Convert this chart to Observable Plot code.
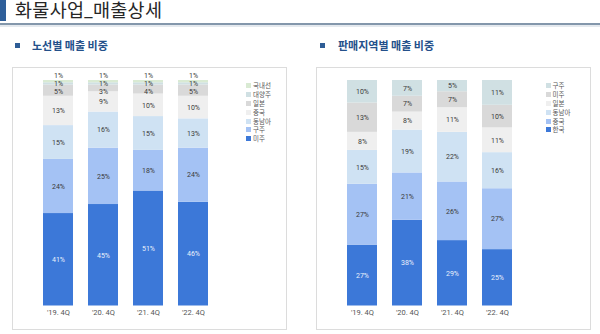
<!DOCTYPE html>
<html><head><meta charset="utf-8">
<script src="https://cdn.jsdelivr.net/npm/d3@7"></script>
<script src="https://cdn.jsdelivr.net/npm/@observablehq/plot@0.6"></script>
<style>
body{margin:0;width:600px;height:334px;background:#fff;position:relative;overflow:hidden;font-family:"Noto Sans CJK KR",Roboto,sans-serif;}
.abs{position:absolute;}
.title{left:15px;top:0px;font-family:Roboto,"Noto Sans CJK KR",sans-serif;font-size:18.5px;color:#262626;line-height:22px;letter-spacing:0.3px;z-index:2;}
.vbar{left:0;top:0;width:6px;height:21px;background:#2f5f9a;}
.hline{left:0;top:23px;width:600px;height:2px;background:#8397ab;}
.hshadow{left:0;top:25px;width:600px;height:2px;background:#e4e9ee;}
.sq{width:5px;height:5px;background:#2e5d96;}
.sec{font-size:11px;font-weight:bold;color:#24508a;line-height:14px;}
.panel{border:1px solid #dcdcdc;background:#fff;}
.leg{font-size:6.5px;color:#555;}
.leg div{position:relative;height:8.9px;}
.leg span.sw{position:absolute;left:0;top:2px;width:5px;height:5px;}
.leg span.tx{position:absolute;left:7px;top:0;line-height:8.9px;color:#555;white-space:nowrap;}
svg text{font-family:Roboto,"Noto Sans CJK KR",sans-serif;}
</style></head>
<body>
<div class="abs vbar"></div>
<div class="abs hline"></div>
<div class="abs hshadow"></div>
<div class="abs title">화물사업_매출상세</div>
<div class="abs sq" style="left:15px;top:43px"></div>
<div class="abs sec" style="left:32px;top:38px">노선별 매출 비중</div>
<div class="abs sq" style="left:320px;top:43px"></div>
<div class="abs sec" style="left:338px;top:38px">판매지역별 매출 비중</div>
<div class="abs panel" style="left:12px;top:67px;width:273px;height:261px"></div>
<div class="abs panel" style="left:316px;top:67px;width:273px;height:261px"></div>
<div id="c1" class="abs" style="left:12px;top:68px"></div>
<div id="c2" class="abs" style="left:316px;top:68px"></div>
<div id="l1" class="abs leg" style="left:246px;top:81px"></div>
<div id="l2" class="abs leg" style="left:545.5px;top:81px"></div>
<script>
const quarters = ["'19. 4Q", "'20. 4Q", "'21. 4Q", "'22. 4Q"];

// 노선별 (bottom to top)
const routeSeries = ["미주", "구주", "동남아", "중국", "일본", "대양주", "국내선"];
const route미주 = [41, 45, 51, 46];
const route구주 = [24, 25, 18, 24];
const route동남아 = [15, 16, 15, 13];
const route중국 = [13, 9, 10, 10];
const route일본 = [5, 3, 4, 5];
const route대양주 = [1, 1, 1, 1];
const route국내선 = [1, 1, 1, 1];
const routeColors = ["#3c78d8", "#a4c2f4", "#cfe2f3", "#efefef", "#d9d9d9", "#d0e0e3", "#d9ead3"];

// 판매지역별 (bottom to top)
const regionSeries = ["한국", "중국", "동남아", "일본", "미주", "구주"];
const region한국 = [27, 38, 29, 25];
const region중국 = [27, 21, 26, 27];
const region동남아 = [15, 19, 22, 16];
const region일본 = [8, 8, 11, 11];
const region미주 = [13, 7, 7, 10];
const region구주 = [10, 7, 5, 11];
const regionColors = ["#3c78d8", "#a4c2f4", "#cfe2f3", "#efefef", "#d9d9d9", "#d0e0e3"];

function buildRows(series, arrays) {
  const rows = [];
  quarters.forEach((q, qi) => {
    let acc = 0;
    series.forEach((s, si) => {
      const v = arrays[si][qi];
      rows.push({q, s, si, v, y1: acc, y2: acc + v});
      acc += v;
    });
    // label placement, top-down with collision avoidance (in % units from top)
    const bar = rows.filter(r => r.q === q).slice().reverse();
    const gap = 3.4;
    let prev = null;
    bar.forEach((r, i) => {
      const centerFromTop = 100 - (r.y1 + r.y2) / 2;
      let t;
      if (i === 0 && r.v <= 2) t = -2.1;
      else t = prev === null ? centerFromTop : Math.max(centerFromTop, prev + gap);
      r.ly = 100 - t;
      prev = t;
    });
  });
  return rows;
}

function chart(series, arrays, colors) {
  const rows = buildRows(series, arrays);
  return Plot.plot({
    width: 228, height: 259,
    marginLeft: 14, marginRight: 15.5, marginTop: 12, marginBottom: 21.5,
    style: {background: "transparent", fontSize: "7px"},
    x: {domain: quarters, padding: 0.344, label: null, tickSize: 0, tickPadding: 3.5},
    y: {domain: [0, 100], axis: null},
    color: {domain: series, range: colors},
    marks: [
      Plot.rectY(rows, {x: "q", y1: "y1", y2: "y2", fill: "s"}),
      Plot.text(rows, {x: "q", y: "ly", text: d => d.v + "%", fontSize: 7,
        fill: d => d.si === 0 ? "#eaf0fb" : "#3a3a3a"}),
      Plot.axisX({tickSize: 0, tickPadding: 3.5, fontSize: 7.5, color: "#555", label: null})
    ]
  });
}

document.getElementById("c1").appendChild(chart(routeSeries,
  [route미주, route구주, route동남아, route중국, route일본, route대양주, route국내선], routeColors));
document.getElementById("c2").appendChild(chart(regionSeries,
  [region한국, region중국, region동남아, region일본, region미주, region구주], regionColors));

function legend(id, series, colors) {
  const el = document.getElementById(id);
  series.slice().reverse().forEach((s, i) => {
    const c = colors[series.length - 1 - i];
    const d = document.createElement("div");
    d.innerHTML = `<span class="sw" style="background:${c}"></span><span class="tx">${s}</span>`;
    el.appendChild(d);
  });
}
legend("l1", routeSeries, routeColors);
legend("l2", regionSeries, regionColors);
</script>
</body></html>
